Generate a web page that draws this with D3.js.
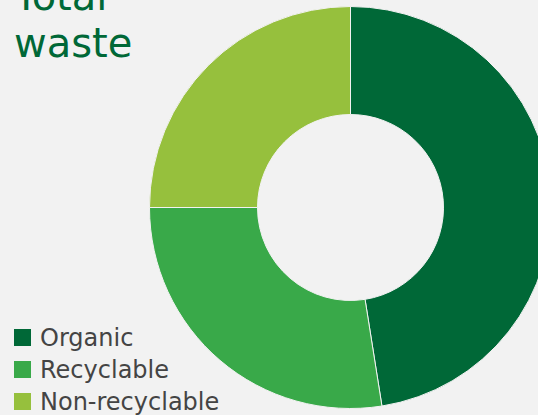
<!DOCTYPE html>
<html><head><meta charset="utf-8">
<script src="https://cdn.jsdelivr.net/npm/d3@7"></script>
<style>
html,body{margin:0;padding:0;background:#f2f2f2;}
svg{display:block;}
</style></head>
<body>
<svg id="chart" width="538" height="415"></svg>
<script>
const categories = ["Organic", "Recyclable", "Non-recyclable"];
const values = [47.5, 27.5, 25];
const colors = ["#006837", "#39a949", "#96c03d"];
const titleLines = ["Total", "waste"];

const W = 538, H = 415;
const svg = d3.select("#chart");
svg.append("rect").attr("width", W).attr("height", H).attr("fill", "#f2f2f2");

const cx = 350.5, cy = 207.5, outerR = 201, innerR = 93;
const pie = d3.pie().sort(null).value(d => d)(values);
const arc = d3.arc().innerRadius(innerR).outerRadius(outerR);
const color = d3.scaleOrdinal().domain(categories).range(colors);

svg.append("g").attr("transform", `translate(${cx},${cy})`)
  .selectAll("path").data(pie).join("path")
  .attr("d", arc)
  .attr("fill", (d, i) => color(categories[i]))
  .attr("stroke", "#f2f2f2").attr("stroke-width", 1);

const font = "'DejaVu Sans', 'Noto Sans', sans-serif";
svg.append("g").selectAll("text").data(titleLines).join("text")
  .attr("x", 14).attr("y", (d, i) => 10 + i * 47)
  .attr("font-family", font).attr("font-size", 40).attr("fill", "#006837")
  .text(d => d);

const legend = svg.append("g");
const rowY = d3.scalePoint().domain(categories).range([329, 393]);
const rows = legend.selectAll("g").data(categories).join("g")
  .attr("transform", d => `translate(14,${rowY(d)})`);
rows.append("rect").attr("width", 17).attr("height", 17).attr("fill", d => color(d));
rows.append("text").attr("x", 26).attr("y", 17)
  .attr("font-family", font).attr("font-size", 24).attr("fill", "#444")
  .text(d => d);
</script>
</body></html>
